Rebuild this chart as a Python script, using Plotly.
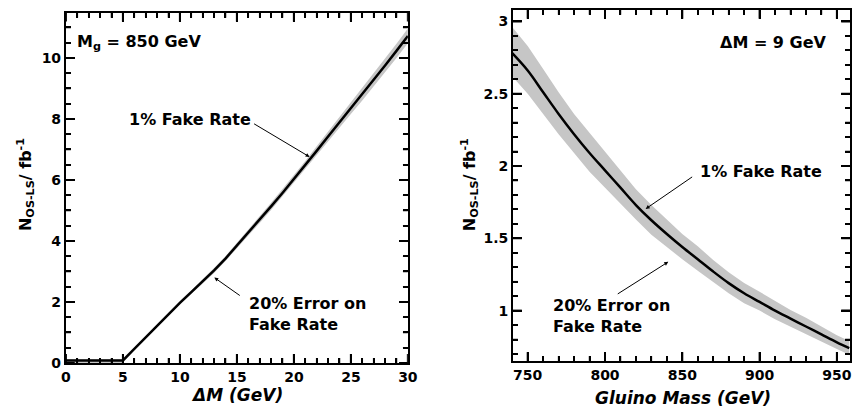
import plotly.graph_objects as go

W, H = 862, 416

# ---------------- data ----------------
dm_x = [0, 5, 6, 7, 8, 9, 10, 11, 12, 13, 14, 15, 16, 17, 18, 19, 20, 21, 22, 23, 24, 25, 26, 27, 28, 29, 30]
dm_y = [0.08, 0.08, 0.46, 0.84, 1.22, 1.6, 1.97, 2.32, 2.66, 3.03, 3.42, 3.84, 4.27, 4.7, 5.13,
        5.57, 6.02, 6.48, 6.95, 7.42, 7.88, 8.34, 8.8, 9.27, 9.75, 10.23, 10.72]
dm_up = [0.12, 0.12, 0.49, 0.88, 1.26, 1.65, 2.03, 2.38, 2.73, 3.11, 3.5, 3.93, 4.37, 4.81, 5.25,
         5.7, 6.15, 6.62, 7.1, 7.58, 8.05, 8.52, 9.0, 9.48, 9.97, 10.46, 10.96]
dm_lo = [0.0, 0.0, 0.43, 0.8, 1.18, 1.55, 1.92, 2.26, 2.59, 2.95, 3.34, 3.75, 4.17, 4.59, 5.01,
         5.44, 5.89, 6.34, 6.8, 7.26, 7.71, 8.16, 8.6, 9.06, 9.53, 10.0, 10.48]

mg_x = [740, 750, 760, 770, 780, 790, 800, 810, 820, 830, 840, 850, 860, 870, 880, 890, 900,
        910, 920, 930, 940, 950, 958]
mg_y = [2.78, 2.66, 2.51, 2.36, 2.22, 2.09, 1.97, 1.85, 1.73, 1.625, 1.53, 1.44, 1.355, 1.27,
        1.19, 1.12, 1.06, 1.00, 0.945, 0.89, 0.835, 0.78, 0.74]
mg_up = [2.96, 2.83, 2.67, 2.51, 2.36, 2.23, 2.10, 1.97, 1.84, 1.73, 1.63, 1.53, 1.445, 1.35,
         1.265, 1.19, 1.13, 1.065, 1.005, 0.95, 0.89, 0.83, 0.79]
mg_lo = [2.62, 2.50, 2.36, 2.22, 2.09, 1.96, 1.85, 1.74, 1.63, 1.525, 1.44, 1.355, 1.275, 1.195,
         1.12, 1.05, 1.0, 0.94, 0.89, 0.835, 0.785, 0.735, 0.695]

dm_ticks = [0, 5, 10, 15, 20, 25, 30]
dm_yticks = [0, 2, 4, 6, 8, 10]
mg_ticks = [750, 800, 850, 900, 950]
mg_yticks = [1, 1.5, 2, 2.5, 3]

dm_xr, dm_yr = [0, 30], [0, 11.48]
mg_xr, mg_yr = [740.5, 958.5], [0.652, 3.08]

# ---------------- helpers ----------------
def fx(px):
    return px / W

def fy(py):
    return 1 - py / H

FONT = "DejaVu Sans"
BAND = "rgb(198,198,198)"
MAJ_LEN, MIN_LEN = 9, 5

fig = go.Figure()

# left panel
fig.add_trace(go.Scatter(x=dm_x + dm_x[::-1], y=dm_up + dm_lo[::-1], mode="lines",
                         line=dict(width=0, color=BAND), fill="toself", fillcolor=BAND,
                         xaxis="x", yaxis="y", showlegend=False, hoverinfo="skip"))
fig.add_trace(go.Scatter(x=dm_x, y=dm_y, mode="lines", line=dict(width=2.5, color="black"),
                         xaxis="x", yaxis="y", showlegend=False))

# right panel
fig.add_trace(go.Scatter(x=mg_x + mg_x[::-1], y=mg_up + mg_lo[::-1], mode="lines",
                         line=dict(width=0, color=BAND), fill="toself", fillcolor=BAND,
                         xaxis="x2", yaxis="y2", showlegend=False, hoverinfo="skip"))
fig.add_trace(go.Scatter(x=mg_x, y=mg_y, mode="lines", line=dict(width=2.5, color="black", shape="spline"),
                         xaxis="x2", yaxis="y2", showlegend=False))


def steps(lo, hi, step, skip):
    vals, v = [], lo
    while v <= hi + 1e-9:
        r = round(v, 6)
        if all(abs(r - s) > 1e-6 for s in skip):
            vals.append(r)
        v += step
    return vals


def frame_ticks(xa, ya, dom_px_w, dom_px_h, xr, yr, xmaj, xmin, ymaj, ymin):
    """inside tick segments on all four sides, drawn as line segments in data space"""
    ppx = dom_px_w / (xr[1] - xr[0])
    ppy = dom_px_h / (yr[1] - yr[0])
    for xv, yv, L, w in ((xmaj, ymaj, MAJ_LEN, 2), (xmin, ymin, MIN_LEN, 1.5)):
        dy = L / ppy
        dx = L / ppx
        xs, ys = [], []
        for v in xv:
            xs += [v, v, None, v, v, None]
            ys += [yr[0], yr[0] + dy, None, yr[1], yr[1] - dy, None]
        for v in yv:
            xs += [xr[0], xr[0] + dx, None, xr[1], xr[1] - dx, None]
            ys += [v, v, None, v, v, None]
        fig.add_trace(go.Scatter(x=xs, y=ys, mode="lines", line=dict(width=w, color="black"),
                                 connectgaps=False, xaxis=xa, yaxis=ya, showlegend=False,
                                 hoverinfo="skip", cliponaxis=False))


frame_ticks("x", "y", 410 - 62, 370 - 13, dm_xr, dm_yr,
            dm_ticks, steps(0, 30, 1, dm_ticks), dm_yticks, steps(0, 11.48, 0.5, dm_yticks))
frame_ticks("x2", "y2", 860 - 517, 368 - 10, mg_xr, mg_yr,
            mg_ticks, steps(750, 958, 10, mg_ticks), mg_yticks, steps(0.7, 3.08, 0.1, mg_yticks))

tickfont = dict(family=FONT, size=14, color="black")

def axis(vals, mdt, **kw):
    d = dict(showline=True, linecolor="black", linewidth=2, mirror="ticks",
             ticks="inside", ticklen=MAJ_LEN, tickcolor="#000000", tickwidth=2,
             showgrid=False, zeroline=False, tickfont=tickfont,
             tickmode="array", tickvals=vals, ticktext=["<b>%g</b>" % v for v in vals],
             minor=dict(dtick=mdt, ticklen=MIN_LEN, ticks="inside", tickwidth=1.5, tickcolor="#000000"))
    d.update(kw)
    return d

fig.update_layout(
    width=W, height=H, showlegend=False,
    margin=dict(l=0, r=0, t=0, b=0),
    paper_bgcolor="white", plot_bgcolor="white",
    xaxis=axis(dm_ticks, 1, domain=[fx(62), fx(410)], range=dm_xr, anchor="y"),
    yaxis=axis(dm_yticks, 0.5, domain=[fy(370), fy(13)], range=dm_yr, anchor="x"),
    xaxis2=axis(mg_ticks, 10, domain=[fx(517), fx(860)], range=mg_xr, anchor="y2"),
    yaxis2=axis(mg_yticks, 0.1, domain=[fy(368), fy(10)], range=mg_yr, anchor="x2"),
)

afont = dict(family=FONT, size=16, color="black", weight="bold")
titfont_it = dict(family=FONT, size=17, color="black", weight="bold", style="italic")

def text(t, px, py, xanchor="left", font=afont, angle=0):
    fig.add_annotation(text=t, x=fx(px), y=fy(py), xref="paper", yref="paper",
                       xanchor=xanchor, yanchor="middle", showarrow=False, font=font,
                       textangle=angle, align="left", borderpad=0)

def arrow(tail, head):
    fig.add_annotation(text="", x=fx(head[0]), y=fy(head[1]), xref="paper", yref="paper",
                       ax=tail[0] - head[0], ay=tail[1] - head[1], showarrow=True,
                       arrowhead=2, arrowsize=0.8, arrowwidth=1, arrowcolor="black")

# left panel labels
text("M<sub>g</sub> = 850 GeV", 72, 43)
text("1% Fake Rate", 125, 122)
arrow((253, 126), (310, 160))
text("20% Error on<br>Fake Rate", 247, 320)
arrow((240, 302), (213, 283))

# right panel labels
text("ΔM = 9 GeV", 727, 43)
text("1% Fake Rate", 706, 175)
arrow((700, 180), (652, 213))
text("20% Error on<br>Fake Rate", 557, 322)
arrow((623, 300), (675, 267))

# axis titles
text("ΔM (GeV)", 236, 403, xanchor="center", font=titfont_it)
text("Gluino Mass (GeV)", 690, 406, xanchor="center", font=titfont_it)
ytitle = "N<sub>OS-LS</sub>/ fb<sup>-1</sup>"
yfont = dict(family=FONT, size=16, color="black", weight="bold")
text(ytitle, 21, 188, xanchor="center", font=yfont, angle=-90)
text(ytitle, 473, 188, xanchor="center", font=yfont, angle=-90)

fig.write_html("out.html")
